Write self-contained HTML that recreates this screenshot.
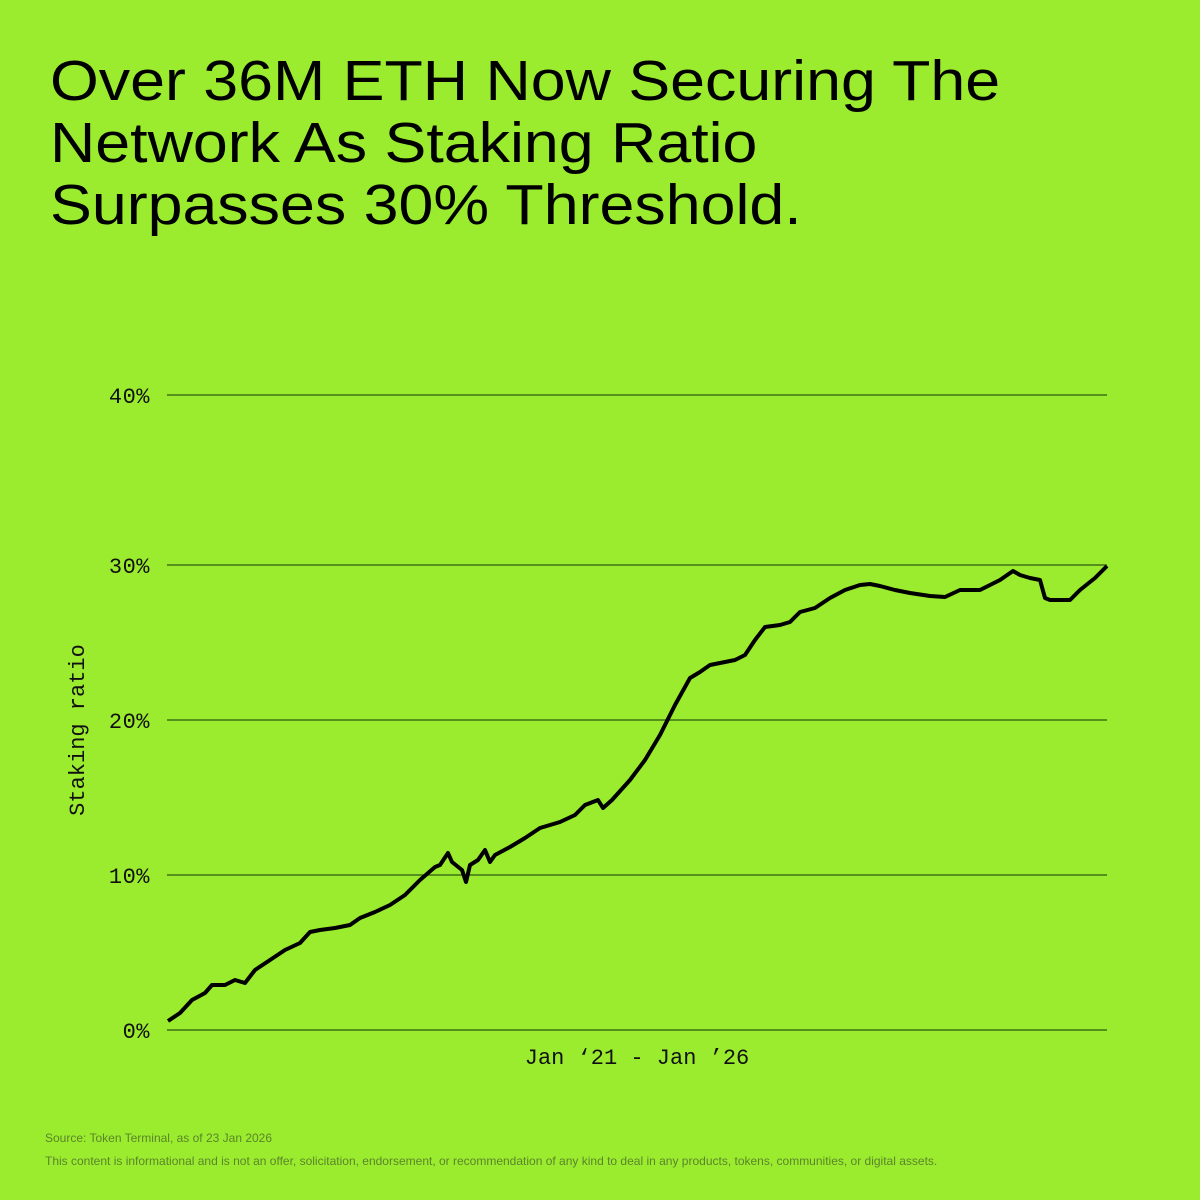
<!DOCTYPE html>
<html><head><style>
body{margin:0;width:1200px;height:1200px;background:#9bec2e;position:relative;overflow:hidden;font-family:"Liberation Sans",sans-serif;}
h1{position:absolute;left:50px;top:50px;margin:0;font-weight:400;font-size:57px;line-height:62px;color:#000;transform:scaleX(1.1);transform-origin:0 0;white-space:nowrap}
.f{position:absolute;left:45px;color:#5a852b;font-size:12px;white-space:nowrap}
</style></head><body>
<h1>Over 36M ETH Now Securing The<br>Network As Staking Ratio<br>Surpasses 30% Threshold.</h1>
<svg width="1200" height="1200" style="position:absolute;left:0;top:0" font-family="Liberation Mono, monospace">
<g stroke="#2b5a10" stroke-width="1.2">
<line x1="167" x2="1107" y1="395" y2="395"/><line x1="167" x2="1107" y1="565" y2="565"/>
<line x1="167" x2="1107" y1="720" y2="720"/><line x1="167" x2="1107" y1="875" y2="875"/>
<line x1="167" x2="1107" y1="1030" y2="1030"/></g>
<g font-size="22" fill="#111" text-anchor="end" letter-spacing="0.5">
<text x="150" y="403">40%</text><text x="150" y="573">30%</text><text x="150" y="728">20%</text><text x="150" y="883">10%</text><text x="150" y="1038">0%</text></g>
<text x="637" y="1064" font-size="22" fill="#111" text-anchor="middle">Jan ‘21 - Jan ’26</text>
<text transform="translate(84,730) rotate(-90)" font-size="22" fill="#111" text-anchor="middle">Staking ratio</text>
<polyline fill="none" stroke="#000" stroke-width="4" stroke-linejoin="round" points="168,1021 180,1013 192,1000 205,993 212,985 225,985 235,980 245,983 255,970 270,960 285,950 300,943 310,932 320,930 335,928 350,925 360,918 375,912 390,905 405,895 420,880 435,867 440,865 448,853 452,862 462,870 466,882 470,865 478,860 485,850 490,862 495,855 510,847 525,838 540,828 560,822 575,815 585,805 598,800 603,808 612,800 630,780 645,760 660,735 675,705 690,678 700,672 710,665 720,663 735,660 745,655 755,640 765,627 780,625 790,622 800,612 815,608 830,598 845,590 860,585 870,584 880,586 895,590 910,593 930,596 945,597 960,590 980,590 1000,580 1013,571 1020,575 1030,578 1040,580 1045,598 1050,600 1060,600 1070,600 1080,590 1095,578 1107,566"/>
</svg>
<div class="f" style="top:1131px">Source: Token Terminal, as of 23 Jan 2026</div>
<div class="f" style="top:1154px">This content is informational and is not an offer, solicitation, endorsement, or recommendation of any kind to deal in any products, tokens, communities, or digital assets.</div>
</body></html>
